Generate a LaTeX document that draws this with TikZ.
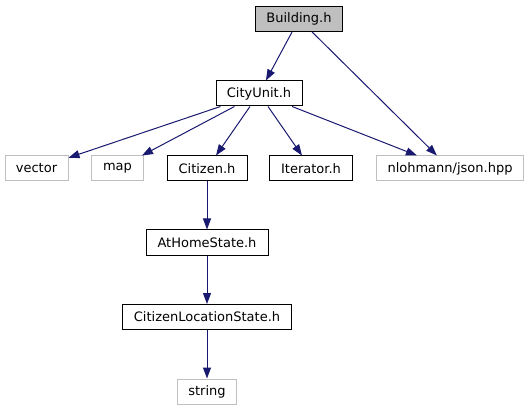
\documentclass[tikz,border=0pt]{standalone}
\usepackage{fontspec}
\setmainfont{DejaVu Sans}
\usetikzlibrary{arrows.meta}
\definecolor{edgeblue}{HTML}{191970}
\definecolor{extgray}{HTML}{BFBFBF}
\tikzset{
  hbox/.style={draw=black, line width=1pt, fill=white, minimum height=25pt, inner sep=0pt, font=\fontsize{13}{15}\selectfont},
  extbox/.style={hbox, draw=extgray},
  curbox/.style={hbox, fill=extgray},
  dep/.style={draw=edgeblue, line width=1pt, -{Triangle[length=11pt,width=8pt]}}
}
\begin{document}
\begin{tikzpicture}[x=1pt,y=-1pt]
\useasboundingbox (0,0) rectangle (529,411);
\node[curbox, minimum width=87pt] (bld) at (299,19) {Building.h};
\node[hbox, minimum width=86pt] (cu) at (259,93.5) {CityUnit.h};
\node[extbox, minimum width=63pt] (vec) at (36.5,168.5) {vector};
\node[extbox, minimum width=52pt] (map) at (117.5,168.5) {map};
\node[hbox, minimum width=80pt] (cit) at (207,168.5) {Citizen.h};
\node[hbox, minimum width=83pt] (it) at (311,168.5) {Iterator.h};
\node[extbox, minimum width=147pt] (json) at (450,168.5) {nlohmann/json.hpp};
\node[hbox, minimum width=122pt] (ahs) at (207,242.5) {AtHomeState.h};
\node[hbox, minimum width=169pt] (cls) at (207,317) {CitizenLocationState.h};
\node[extbox, minimum width=59pt] (str) at (207,391.5) {string};
\draw[dep] (bld) -- (cu);
\draw[dep] (bld) -- (json);
\draw[dep] (cu) -- (vec);
\draw[dep] (cu) -- (map);
\draw[dep] (cu) -- (cit);
\draw[dep] (cu) -- (it);
\draw[dep] (cu) -- (json);
\draw[dep] (cit) -- (ahs);
\draw[dep] (ahs) -- (cls);
\draw[dep] (cls) -- (str);
\end{tikzpicture}
\end{document}
